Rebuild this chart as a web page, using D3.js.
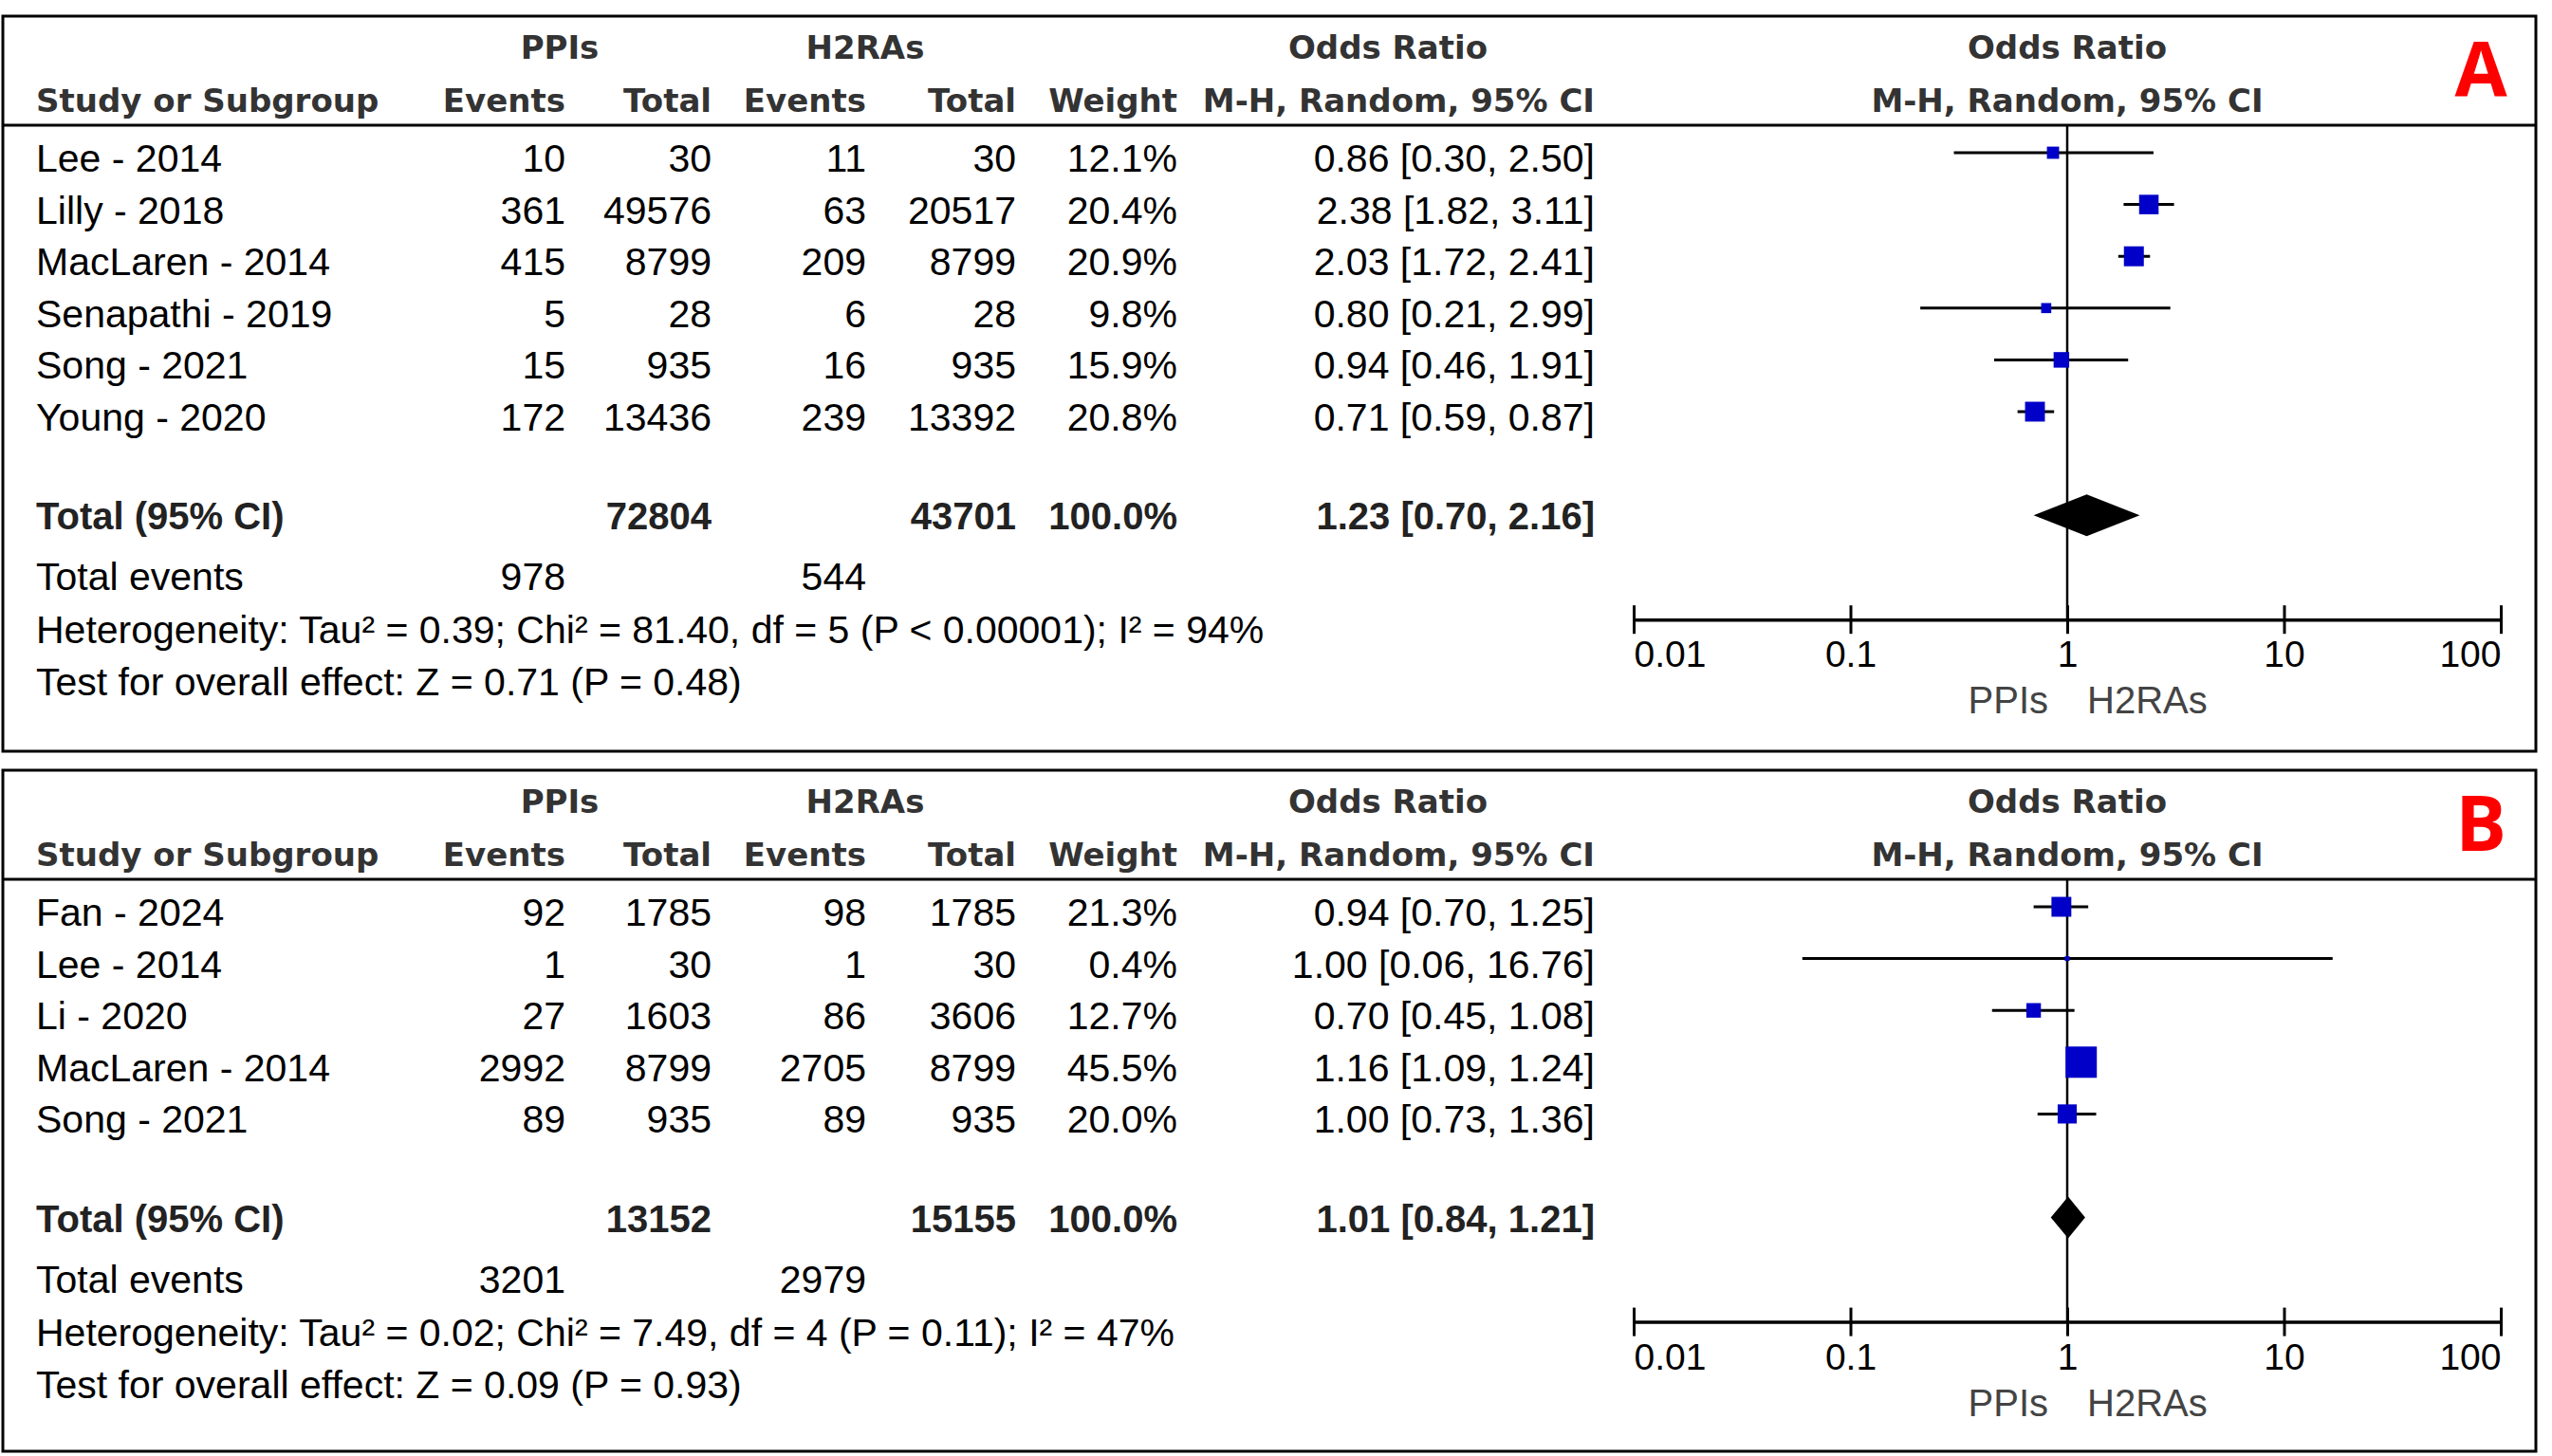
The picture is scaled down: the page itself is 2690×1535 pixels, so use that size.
<!DOCTYPE html>
<html>
<head>
<meta charset="utf-8">
<script src="https://cdn.jsdelivr.net/npm/d3@7"></script>
<style>
  body { margin: 0; background: #fff; }
</style>
</head>
<body>
<div id="chart"></div>
<script>
// Panel A data
var studiesA = ["Lee - 2014", "Lilly - 2018", "MacLaren - 2014", "Senapathi - 2019", "Song - 2021", "Young - 2020"];
var ppiEventsA = [10, 361, 415, 5, 15, 172];
var ppiTotalA = [30, 49576, 8799, 28, 935, 13436];
var h2EventsA = [11, 63, 209, 6, 16, 239];
var h2TotalA = [30, 20517, 8799, 28, 935, 13392];
var weightA = [12.1, 20.4, 20.9, 9.8, 15.9, 20.8];
var orA = [0.86, 2.38, 2.03, 0.80, 0.94, 0.71];
var lowA = [0.30, 1.82, 1.72, 0.21, 0.46, 0.59];
var highA = [2.50, 3.11, 2.41, 2.99, 1.91, 0.87];
var totalsA = [72804, 43701];
var pooledA = [1.23, 0.70, 2.16];
var eventsA = [978, 544];
var hetA = "Heterogeneity: Tau\u00b2 = 0.39; Chi\u00b2 = 81.40, df = 5 (P < 0.00001); I\u00b2 = 94%";
var testA = "Test for overall effect: Z = 0.71 (P = 0.48)";

// Panel B data
var studiesB = ["Fan - 2024", "Lee - 2014", "Li - 2020", "MacLaren - 2014", "Song - 2021"];
var ppiEventsB = [92, 1, 27, 2992, 89];
var ppiTotalB = [1785, 30, 1603, 8799, 935];
var h2EventsB = [98, 1, 86, 2705, 89];
var h2TotalB = [1785, 30, 3606, 8799, 935];
var weightB = [21.3, 0.4, 12.7, 45.5, 20.0];
var orB = [0.94, 1.00, 0.70, 1.16, 1.00];
var lowB = [0.70, 0.06, 0.45, 1.09, 0.73];
var highB = [1.25, 16.76, 1.08, 1.24, 1.36];
var totalsB = [13152, 15155];
var pooledB = [1.01, 0.84, 1.21];
var eventsB = [3201, 2979];
var hetB = "Heterogeneity: Tau\u00b2 = 0.02; Chi\u00b2 = 7.49, df = 4 (P = 0.11); I\u00b2 = 47%";
var testB = "Test for overall effect: Z = 0.09 (P = 0.93)";

// Axis ticks
var tickValues = [0.01, 0.1, 1, 10, 100];
var tickLabels = ["0.01", "0.1", "1", "10", "100"];

var svgWidth = 2690;
var svgHeight = 1535;

var svg = d3.select("#chart")
  .append("svg")
  .attr("width", svgWidth)
  .attr("height", svgHeight)
  .style("font-family", "'Liberation Sans', Arial, sans-serif");

// Layout
var boxLeft = 3, boxRight = 2673;
var col = { study: 38, ppiEv: 596, ppiTot: 750, h2Ev: 913, h2Tot: 1071, weight: 1241, or: 1681 };
var rowStep = 54.6;

var x = d3.scaleLog().domain([0.01, 100]).range([1722, 2636]);

var f2 = d3.format(".2f");
var f1 = d3.format(".1f");
function ciText(o, l, h) { return f2(o) + " [" + f2(l) + ", " + f2(h) + "]"; }

var panels = [
  { label: "A", top: 17, bottom: 792, boxMax: 21, boxExp: 0.9,
    studies: studiesA, ppiEv: ppiEventsA, ppiTot: ppiTotalA, h2Ev: h2EventsA, h2Tot: h2TotalA,
    weight: weightA, or: orA, low: lowA, high: highA, totals: totalsA, pooled: pooledA, events: eventsA,
    het: hetA, test: testA },
  { label: "B", top: 812, bottom: 1530, boxMax: 33, boxExp: 0.6,
    studies: studiesB, ppiEv: ppiEventsB, ppiTot: ppiTotalB, h2Ev: h2EventsB, h2Tot: h2TotalB,
    weight: weightB, or: orB, low: lowB, high: highB, totals: totalsB, pooled: pooledB, events: eventsB,
    het: hetB, test: testB }
];

panels.forEach(function(p) {
  var g = svg.append("g");
  var n = p.studies.length;
  var y = d3.scaleLinear().domain([0, 1]).range([p.top + 144, p.top + 144 + rowStep]);
  var totalY = y(n + 1);
  var axisY = totalY + 110;
  var headLineY = p.top + 115;

  // frame
  g.append("rect")
    .attr("x", boxLeft).attr("y", p.top)
    .attr("width", boxRight - boxLeft).attr("height", p.bottom - p.top)
    .attr("fill", "none").attr("stroke", "#000").attr("stroke-width", 3);
  g.append("line")
    .attr("x1", boxLeft).attr("x2", boxRight)
    .attr("y1", headLineY).attr("y2", headLineY)
    .attr("stroke", "#000").attr("stroke-width", 3);

  // headers
  var hdr = g.append("g")
    .style("font-family", "'DejaVu Sans', Verdana, sans-serif")
    .attr("font-weight", "bold")
    .attr("font-size", 34)
    .attr("fill", "#333");
  var h1 = p.top + 45, h2 = p.top + 101;
  [["PPIs", 590, h1, "middle"], ["H2RAs", 912, h1, "middle"], ["Odds Ratio", 1463, h1, "middle"],
   ["Odds Ratio", x(1), h1, "middle"],
   ["Study or Subgroup", col.study, h2, "start"], ["Events", col.ppiEv, h2, "end"],
   ["Total", col.ppiTot, h2, "end"], ["Events", col.h2Ev, h2, "end"], ["Total", col.h2Tot, h2, "end"],
   ["Weight", col.weight, h2, "end"], ["M-H, Random, 95% CI", col.or, h2, "end"],
   ["M-H, Random, 95% CI", x(1), h2, "middle"]].forEach(function(h) {
    hdr.append("text").attr("x", h[1]).attr("y", h[2]).attr("text-anchor", h[3]).text(h[0]);
  });

  // panel letter
  g.append("text")
    .attr("x", 2615).attr("y", p.top + 85)
    .attr("text-anchor", "middle")
    .style("font-family", "'Open Sans', sans-serif")
    .attr("font-weight", "bold")
    .attr("font-size", 80)
    .attr("fill", "#ff0000")
    .text(p.label);

  // study rows
  var rows = d3.range(n);
  var tbl = g.append("g").attr("font-size", 41).attr("fill", "#000");
  rows.forEach(function(i) {
    var ty = y(i) + 20;
    tbl.append("text").attr("x", col.study).attr("y", ty).text(p.studies[i]);
    [[p.ppiEv[i], col.ppiEv], [p.ppiTot[i], col.ppiTot], [p.h2Ev[i], col.h2Ev], [p.h2Tot[i], col.h2Tot],
     [f1(p.weight[i]) + "%", col.weight], [ciText(p.or[i], p.low[i], p.high[i]), col.or]].forEach(function(c) {
      tbl.append("text").attr("x", c[1]).attr("y", ty).attr("text-anchor", "end").text(c[0]);
    });
  });

  // total row
  var tot = g.append("g").attr("font-size", 40).attr("font-weight", "bold").attr("fill", "#222");
  var tty = totalY + 15;
  tot.append("text").attr("x", col.study).attr("y", tty).text("Total (95% CI)");
  [[p.totals[0], col.ppiTot], [p.totals[1], col.h2Tot], ["100.0%", col.weight],
   [ciText(p.pooled[0], p.pooled[1], p.pooled[2]), col.or]].forEach(function(c) {
    tot.append("text").attr("x", c[1]).attr("y", tty).attr("text-anchor", "end").text(c[0]);
  });

  var ey = totalY + 64 + 15;
  tbl.append("text").attr("x", col.study).attr("y", ey).text("Total events");
  tbl.append("text").attr("x", col.ppiEv).attr("y", ey).attr("text-anchor", "end").text(p.events[0]);
  tbl.append("text").attr("x", col.h2Ev).attr("y", ey).attr("text-anchor", "end").text(p.events[1]);
  tbl.append("text").attr("x", col.study).attr("y", totalY + 120 + 15).text(p.het);
  tbl.append("text").attr("x", col.study).attr("y", totalY + 175 + 15).text(p.test);

  // forest plot
  g.append("line")
    .attr("x1", x(1)).attr("x2", x(1))
    .attr("y1", headLineY).attr("y2", axisY)
    .attr("stroke", "#000").attr("stroke-width", 2.5);

  var size = d3.scalePow().exponent(p.boxExp).domain([0, d3.max(p.weight)]).range([0, p.boxMax]);
  function side(i) { return Math.max(5, size(p.weight[i])); }

  g.selectAll(".ci")
    .data(rows)
    .enter()
    .append("line")
    .attr("x1", function(i) { return x(p.low[i]); })
    .attr("x2", function(i) { return x(p.high[i]); })
    .attr("y1", function(i) { return y(i); })
    .attr("y2", function(i) { return y(i); })
    .attr("stroke", "#000").attr("stroke-width", 3);

  g.selectAll(".box")
    .data(rows)
    .enter()
    .append("rect")
    .attr("x", function(i) { return x(p.or[i]) - side(i) / 2; })
    .attr("y", function(i) { return y(i) - side(i) / 2; })
    .attr("width", side)
    .attr("height", side)
    .attr("fill", "#0000c8");

  var dh = 22;
  g.append("path")
    .attr("d", "M" + x(p.pooled[1]) + "," + totalY +
      "L" + x(p.pooled[0]) + "," + (totalY - dh) +
      "L" + x(p.pooled[2]) + "," + totalY +
      "L" + x(p.pooled[0]) + "," + (totalY + dh) + "Z")
    .attr("fill", "#000");

  // axis
  var axis = d3.axisBottom(x)
    .tickValues(tickValues)
    .tickFormat(function(d, i) { return tickLabels[i]; })
    .tickSizeOuter(0)
    .tickSizeInner(15)
    .tickPadding(0);

  var ax = g.append("g")
    .attr("transform", "translate(0," + axisY + ")")
    .call(axis);
  ax.attr("font-family", null).attr("font-size", null);
  ax.select(".domain").attr("stroke", "#000").attr("stroke-width", 3.5);
  ax.selectAll(".tick line").attr("y1", -15).attr("y2", 15).attr("stroke", "#000").attr("stroke-width", 3);
  ax.selectAll(".tick text")
    .attr("y", 50).attr("dy", null)
    .attr("font-size", 39)
    .attr("fill", "#000")
    .attr("text-anchor", function(d, i) { return i === 0 ? "start" : (i === tickValues.length - 1 ? "end" : "middle"); });

  g.append("text")
    .attr("x", x(1) - 20).attr("y", axisY + 99)
    .attr("text-anchor", "end").attr("font-size", 40).attr("fill", "#444")
    .text("PPIs");
  g.append("text")
    .attr("x", x(1) + 21).attr("y", axisY + 99)
    .attr("text-anchor", "start").attr("font-size", 40).attr("fill", "#444")
    .text("H2RAs");
});
</script>
</body>
</html>
